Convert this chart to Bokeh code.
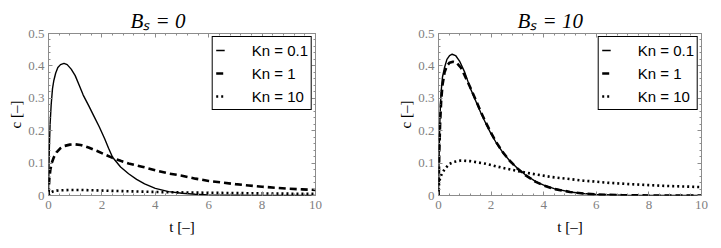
from bokeh.plotting import figure
from bokeh.layouts import row
from bokeh.models import (Range1d, LinearAxis, Legend, LegendItem, Title,
                          SingleIntervalTicker)
from bokeh.embed import file_html
from bokeh.resources import INLINE

# ---------------- data ----------------
# Panel B_s = 0
t_b0_kn01 = [0, 0.03, 0.06, 0.1, 0.15, 0.2, 0.27, 0.35, 0.45, 0.58, 0.7, 0.85, 1.0, 1.15,
             1.3, 1.5, 1.7, 1.9, 2.1, 2.25, 2.4, 2.7, 3.0, 3.3, 3.6, 4.0, 4.5, 5.0, 5.5,
             6.0, 7.0, 8.0, 10.0]
c_b0_kn01 = [0, 0.14, 0.22, 0.28, 0.33, 0.355, 0.378, 0.395, 0.404, 0.408, 0.404, 0.39,
             0.37, 0.34, 0.31, 0.278, 0.245, 0.212, 0.176, 0.146, 0.118, 0.088, 0.067,
             0.050, 0.036, 0.022, 0.012, 0.007, 0.004, 0.002, 0.001, 0.0, 0.0]

t_b0_kn1 = [0, 0.03, 0.07, 0.12, 0.2, 0.3, 0.45, 0.6, 0.8, 1.0, 1.2, 1.5, 1.8, 2.1, 2.4,
            2.7, 3.0, 3.5, 4.0, 4.5, 5.0, 5.5, 6.0, 6.5, 7.0, 7.5, 8.0, 8.5, 9.0, 9.5, 10.0]
c_b0_kn1 = [0, 0.05, 0.08, 0.1, 0.118, 0.133, 0.146, 0.153, 0.157, 0.158, 0.156, 0.148,
            0.138, 0.127, 0.116, 0.107, 0.099, 0.089, 0.078, 0.068, 0.061, 0.052, 0.045,
            0.040, 0.035, 0.031, 0.027, 0.024, 0.021, 0.019, 0.017]

t_b0_kn10 = [0, 0.05, 0.15, 0.3, 0.5, 0.8, 1.2, 1.7, 2.5, 3.5, 4.5, 5.5, 6.5, 7.5, 8.5, 10]
c_b0_kn10 = [0, 0.008, 0.012, 0.015, 0.016, 0.017, 0.017, 0.016, 0.014, 0.012, 0.010,
             0.009, 0.008, 0.007, 0.006, 0.005]

# Panel B_s = 10
t_b10_kn01 = [0, 0.03, 0.06, 0.1, 0.15, 0.23, 0.32, 0.42, 0.52, 0.65, 0.8, 1.0, 1.2, 1.4,
              1.6, 1.8, 2.0, 2.2, 2.45, 2.7, 3.0, 3.3, 3.7, 4.0, 4.4, 5.0, 5.5, 6.0, 7.0,
              8.0, 10.0]
c_b10_kn01 = [0, 0.15, 0.25, 0.32, 0.365, 0.395, 0.42, 0.432, 0.436, 0.432, 0.415, 0.38,
              0.333, 0.295, 0.257, 0.222, 0.19, 0.162, 0.132, 0.108, 0.084, 0.064, 0.043,
              0.032, 0.021, 0.011, 0.006, 0.003, 0.001, 0.0, 0.0]

t_b10_kn1 = [0, 0.03, 0.06, 0.1, 0.15, 0.23, 0.32, 0.42, 0.55, 0.68, 0.85, 1.0, 1.2, 1.4,
             1.6, 1.8, 2.0, 2.2, 2.45, 2.7, 3.0, 3.3, 3.7, 4.0, 4.4, 5.0, 5.5, 6.0, 7.0,
             8.0, 10.0]
c_b10_kn1 = [0, 0.13, 0.22, 0.29, 0.34, 0.38, 0.40, 0.41, 0.413, 0.41, 0.395, 0.37, 0.335,
             0.298, 0.26, 0.225, 0.193, 0.164, 0.133, 0.108, 0.083, 0.063, 0.042, 0.031,
             0.02, 0.011, 0.006, 0.003, 0.001, 0.0, 0.0]

t_b10_kn10 = [0, 0.02, 0.05, 0.1, 0.16, 0.25, 0.42, 0.6, 0.86, 1.2, 1.8, 2.4, 3.1, 3.7,
              4.3, 5.5, 6.5, 7.5, 8.5, 10.0]
c_b10_kn10 = [0, 0.035, 0.05, 0.062, 0.072, 0.083, 0.098, 0.104, 0.108, 0.106, 0.098,
              0.086, 0.074, 0.065, 0.057, 0.046, 0.039, 0.034, 0.030, 0.026]

legend_labels = ["Kn = 0.1", "Kn = 1", "Kn = 10"]
panel_titles = ["B\u209b = 0", "B\u209b = 10"]
x_label = "t [\u2013]"
y_label = "c [\u2013]"

SERIF = "Liberation Serif"
GRAY = "#8c8c8c"
TICKLBL = "#808080"


def style_axis(ax, show_labels):
    ax.axis_line_color = None
    ax.major_tick_line_color = GRAY
    ax.minor_tick_line_color = GRAY
    ax.major_tick_in = 4
    ax.major_tick_out = 0
    ax.minor_tick_in = 2
    ax.minor_tick_out = 0
    ax.major_label_text_font = SERIF
    if show_labels:
        ax.major_label_text_color = TICKLBL
        ax.major_label_text_font_size = "13px"
    else:
        ax.major_label_text_color = None
        ax.major_label_text_font_size = "1px"
        ax.major_label_standoff = 0


def make_panel(width, height, bl, br, bt, bb, series, title_text, title_dx):
    p = figure(width=width, height=height, x_range=Range1d(0, 10), y_range=Range1d(0, 0.5),
               output_backend="svg", toolbar_location=None,
               min_border_left=bl, min_border_right=br, min_border_top=bt,
               min_border_bottom=bb, x_axis_location=None, y_axis_location=None)
    p.xgrid.visible = False
    p.ygrid.visible = False
    p.outline_line_color = GRAY
    p.outline_line_width = 1
    p.background_fill_color = "white"
    p.border_fill_color = "white"

    xb = LinearAxis(ticker=SingleIntervalTicker(interval=2, num_minor_ticks=5),
                    axis_label=x_label)
    style_axis(xb, True)
    xb.major_label_standoff = 5
    xb.axis_label_standoff = 7
    xb.axis_label_text_font = SERIF
    xb.axis_label_text_font_style = "normal"
    xb.axis_label_text_font_size = "15px"
    xb.axis_label_text_color = "black"
    p.add_layout(xb, "below")

    yl = LinearAxis(ticker=SingleIntervalTicker(interval=0.1, num_minor_ticks=5),
                    axis_label=y_label)
    style_axis(yl, True)
    yl.major_label_standoff = 4
    yl.axis_label_standoff = 1
    yl.axis_label_text_font = SERIF
    yl.axis_label_text_font_style = "normal"
    yl.axis_label_text_font_size = "15px"
    yl.axis_label_text_color = "black"
    p.add_layout(yl, "left")

    xa = LinearAxis(ticker=SingleIntervalTicker(interval=2, num_minor_ticks=5))
    style_axis(xa, False)
    p.add_layout(xa, "above")
    yr = LinearAxis(ticker=SingleIntervalTicker(interval=0.1, num_minor_ticks=5))
    style_axis(yr, False)
    p.add_layout(yr, "right")

    (t1, c1), (t2, c2), (t3, c3) = series
    r1 = p.line(t1, c1, line_color="black", line_width=1.4)
    r2 = p.line(t2, c2, line_color="black", line_width=2.6, line_dash="7 4")
    r3 = p.line(t3, c3, line_color="black", line_width=2.6, line_dash="2 3")

    legend = Legend(items=[LegendItem(label=legend_labels[0], renderers=[r1]),
                           LegendItem(label=legend_labels[1], renderers=[r2]),
                           LegendItem(label=legend_labels[2], renderers=[r3])],
                    location="top_right")
    legend.border_line_color = "black"
    legend.border_line_width = 1
    legend.border_line_alpha = 1
    legend.background_fill_alpha = 1
    legend.padding = 3
    legend.spacing = 3
    legend.margin = 3
    legend.glyph_width = 9
    legend.glyph_height = 20
    legend.label_height = 20
    legend.label_standoff = 27
    legend.label_text_font = "Liberation Sans"
    legend.label_text_font_size = "15px"
    legend.label_text_color = "black"
    p.add_layout(legend)

    p.title = Title(text=title_text, align="left", offset=title_dx, standoff=1,
                    text_font=SERIF, text_font_size="21px", text_font_style="italic",
                    text_color="black")
    return p


p_left = make_panel(360, 247, 48, 45, 33, 50,
                    [(t_b0_kn01, c_b0_kn01), (t_b0_kn1, c_b0_kn1), (t_b0_kn10, c_b0_kn10)],
                    panel_titles[0], 82)
p_right = make_panel(360, 247, 78, 19, 33, 52,
                     [(t_b10_kn01, c_b10_kn01), (t_b10_kn1, c_b10_kn1),
                      (t_b10_kn10, c_b10_kn10)],
                     panel_titles[1], 79)

layout = row(p_left, p_right)
open("out.html", "w").write(file_html(layout, INLINE))
